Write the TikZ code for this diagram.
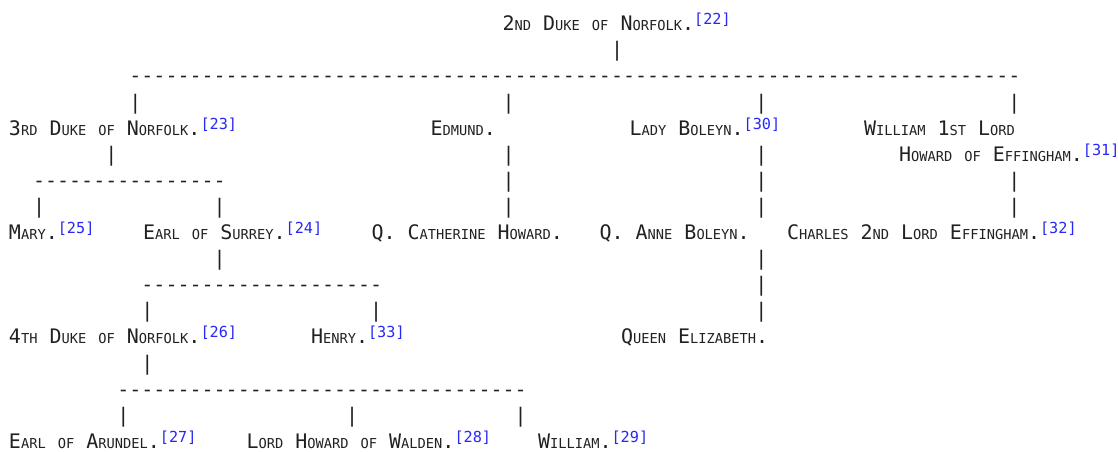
\documentclass[tikz,border=0pt]{standalone}
\usepackage{fontspec}
\newfontfamily\mono{DejaVu Sans Mono}
\definecolor{ink}{RGB}{32,33,34}
\definecolor{refblue}{RGB}{40,40,245}
\newcommand\sm[1]{{\fontsize{13.7}{14}\selectfont #1}}
\newcommand\rf[1]{\raisebox{6pt}{\fontsize{15.2}{16}\selectfont\color{refblue}[#1]}}
\newcommand\dsh[1]{\foreach\k in {1,...,#1}{-}}
\begin{document}
\begin{tikzpicture}[x=1pt,y=-1pt]
\tikzset{
  lbl/.style={anchor=base west, inner sep=0pt, outer sep=0pt, text=ink,
    font=\mono\fontsize{20}{20}\selectfont\frenchspacing},
  bar/.style={lbl},
  rule/.style={lbl},
}
\useasboundingbox (0,0) rectangle (1118,452);
% row 1
\node[lbl] (duke2) at (502.6,30.7) {2\sm{ND} D\sm{UKE} \sm{OF} N\sm{ORFOLK}.\rf{22}};
% row 2
\node[bar] (p2a) at (611,56.8) {|};
% row 3
\node[rule] (r3) at (129.4,82.9) {\dsh{74}};
% row 4
\node[bar] (p4a) at (129.4,109.0) {|};
\node[bar] (p4b) at (502.64,109.0) {|};
\node[bar] (p4c) at (755.48,109.0) {|};
\node[bar] (p4d) at (1008.32,109.0) {|};
% row 5
\node[lbl] (duke3) at (9,135.1) {3\sm{RD} D\sm{UKE} \sm{OF} N\sm{ORFOLK}.\rf{23}};
\node[lbl] (edmund) at (430.5,135.1) {E\sm{DMUND}.};
\node[lbl] (ladyb) at (629.5,135.1) {L\sm{ADY} B\sm{OLEYN}.\rf{30}};
\node[lbl] (william1) at (864,135.1) {W\sm{ILLIAM} 1\sm{ST} L\sm{ORD}};
% row 6
\node[bar] (p6a) at (105.32,161.2) {|};
\node[bar] (p6b) at (502.64,161.2) {|};
\node[bar] (p6c) at (755.48,161.2) {|};
\node[lbl] (william1b) at (899,161.2) {H\sm{OWARD} \sm{OF} E\sm{FFINGHAM}.\rf{31}};
% row 7
\node[rule] (r7) at (33.08,187.3) {\dsh{16}};
\node[bar] (p7b) at (502.64,187.3) {|};
\node[bar] (p7c) at (755.48,187.3) {|};
\node[bar] (p7d) at (1008.32,187.3) {|};
% row 8
\node[bar] (p8a) at (33.08,213.4) {|};
\node[bar] (p8e) at (213.68,213.4) {|};
\node[bar] (p8b) at (502.64,213.4) {|};
\node[bar] (p8c) at (755.48,213.4) {|};
\node[bar] (p8d) at (1008.32,213.4) {|};
% row 9
\node[lbl] (mary) at (9,239.5) {M\sm{ARY}.\rf{25}};
\node[lbl] (surrey) at (143,239.5) {E\sm{ARL} \sm{OF} S\sm{URREY}.\rf{24}};
\node[lbl] (cath) at (371.5,239.5) {Q. C\sm{ATHERINE} H\sm{OWARD}.};
\node[lbl] (anne) at (599.5,239.5) {Q. A\sm{NNE} B\sm{OLEYN}.};
\node[lbl] (charles) at (787,239.5) {C\sm{HARLES} 2\sm{ND} L\sm{ORD} E\sm{FFINGHAM}.\rf{32}};
% row 10
\node[bar] (p10a) at (213.68,265.6) {|};
\node[bar] (p10c) at (755.48,265.6) {|};
% row 11
\node[rule] (r11) at (141.44,291.7) {\dsh{20}};
\node[bar] (p11c) at (755.48,291.7) {|};
% row 12
\node[bar] (p12a) at (141.44,317.8) {|};
\node[bar] (p12b) at (370.2,317.8) {|};
\node[bar] (p12c) at (755.48,317.8) {|};
% row 13
\node[lbl] (duke4) at (9,343.9) {4\sm{TH} D\sm{UKE} \sm{OF} N\sm{ORFOLK}.\rf{26}};
\node[lbl] (henry) at (311,343.9) {H\sm{ENRY}.\rf{33}};
\node[lbl] (eliz) at (621,343.9) {Q\sm{UEEN} E\sm{LIZABETH}.};
% row 14
\node[bar] (p14a) at (141.44,370.0) {|};
% row 15
\node[rule] (r15) at (117.36,396.1) {\dsh{34}};
% row 16
\node[bar] (p16a) at (117.36,422.2) {|};
\node[bar] (p16b) at (346.12,422.2) {|};
\node[bar] (p16c) at (514.68,422.2) {|};
% row 17
\node[lbl] (arundel) at (9,448.3) {E\sm{ARL} \sm{OF} A\sm{RUNDEL}.\rf{27}};
\node[lbl] (walden) at (246.5,448.3) {L\sm{ORD} H\sm{OWARD} \sm{OF} W\sm{ALDEN}.\rf{28}};
\node[lbl] (williamj) at (538,448.3) {W\sm{ILLIAM}.\rf{29}};
\end{tikzpicture}
\end{document}
